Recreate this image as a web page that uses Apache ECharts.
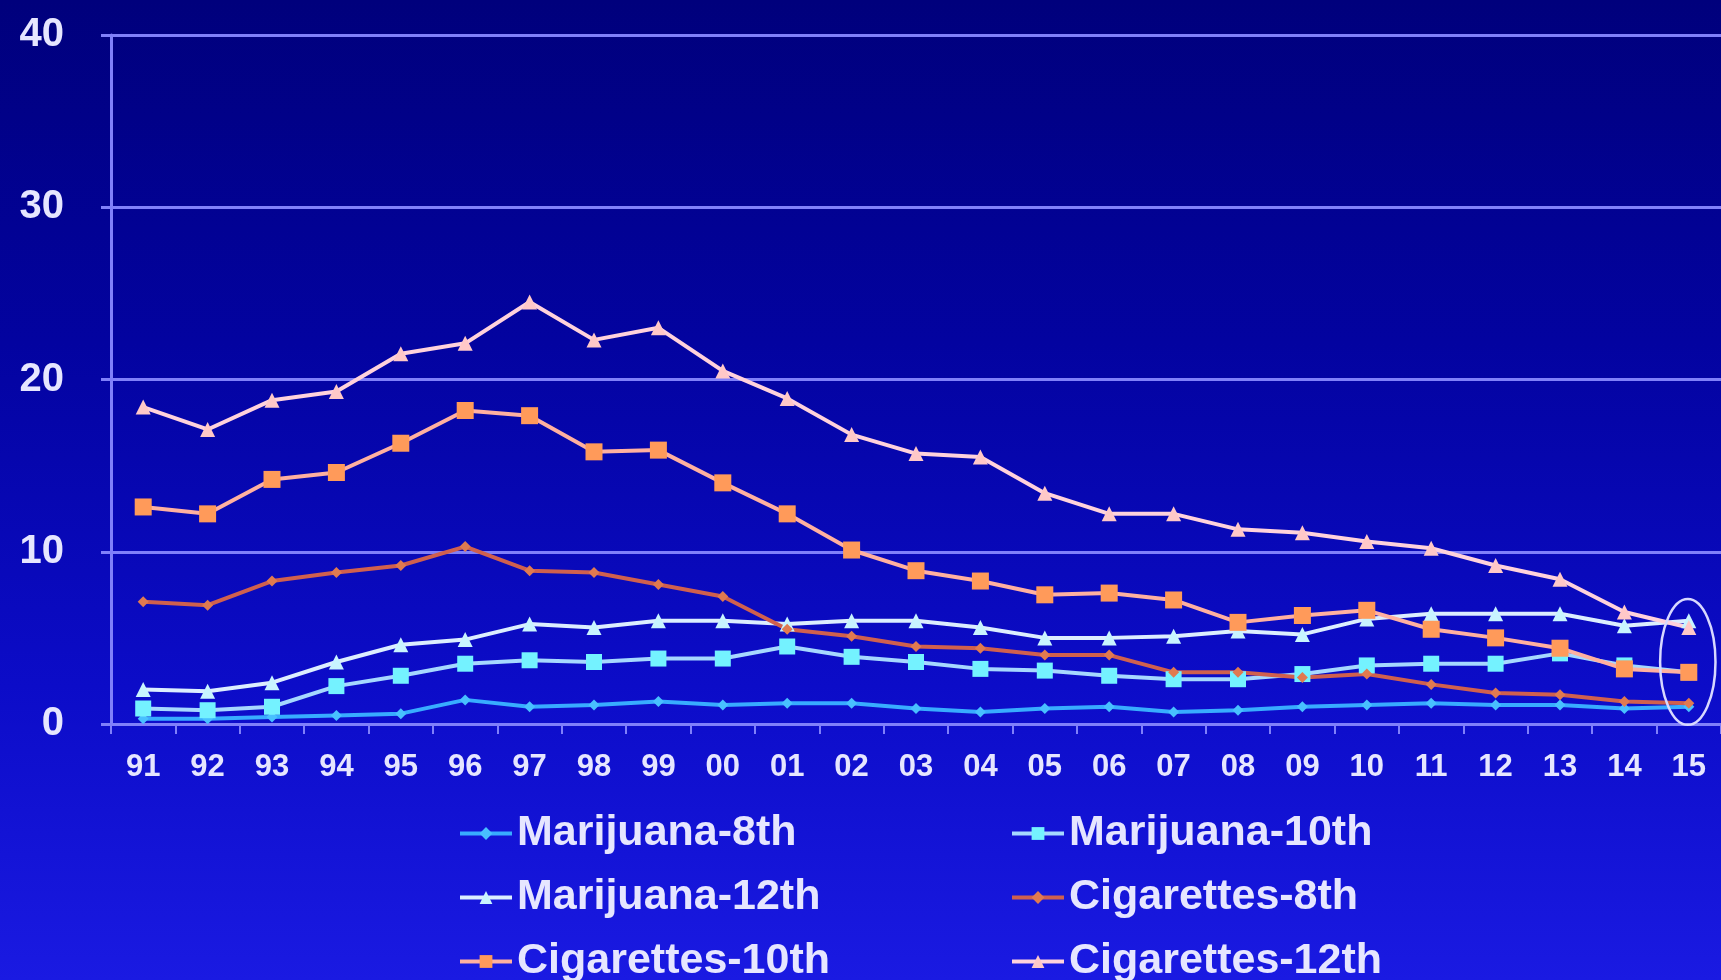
<!DOCTYPE html>
<html>
<head>
<meta charset="utf-8">
<script src="https://cdn.jsdelivr.net/npm/echarts@6/dist/echarts.min.js"></script>
<style>
  html, body { margin: 0; padding: 0; width: 1721px; height: 980px; overflow: hidden; background: #0a0ab8; }
  #chart { width: 1721px; height: 980px; }
</style>
</head>
<body>
<div id="chart"></div>
<script>
// School years (1991–2015)
const years = ['91','92','93','94','95','96','97','98','99','00','01','02','03',
               '04','05','06','07','08','09','10','11','12','13','14','15'];

// Daily use, percent of students
const marijuana8  = [0.3,0.3,0.4,0.5,0.6,1.4,1.0,1.1,1.3,1.1,1.2,1.2,0.9,0.7,0.9,1.0,0.7,0.8,1.0,1.1,1.2,1.1,1.1,0.9,1.0];
const marijuana10 = [0.9,0.8,1.0,2.2,2.8,3.5,3.7,3.6,3.8,3.8,4.5,3.9,3.6,3.2,3.1,2.8,2.6,2.6,2.9,3.4,3.5,3.5,4.1,3.4,3.0];
const marijuana12 = [2.0,1.9,2.4,3.6,4.6,4.9,5.8,5.6,6.0,6.0,5.8,6.0,6.0,5.6,5.0,5.0,5.1,5.4,5.2,6.1,6.4,6.4,6.4,5.7,6.0];
const cigarettes8  = [7.1,6.9,8.3,8.8,9.2,10.3,8.9,8.8,8.1,7.4,5.5,5.1,4.5,4.4,4.0,4.0,3.0,3.0,2.7,2.9,2.3,1.8,1.7,1.3,1.2];
const cigarettes10 = [12.6,12.2,14.2,14.6,16.3,18.2,17.9,15.8,15.9,14.0,12.2,10.1,8.9,8.3,7.5,7.6,7.2,5.9,6.3,6.6,5.5,5.0,4.4,3.2,3.0];
const cigarettes12 = [18.4,17.1,18.8,19.3,21.5,22.1,24.5,22.3,23.0,20.5,18.9,16.8,15.7,15.5,13.4,12.2,12.2,11.3,11.1,10.6,10.2,9.2,8.4,6.5,5.6];

// Value axis ticks
const yMin = 0, yMax = 40, yStep = 10;

const FONT = "'Liberation Sans', Arial, sans-serif";
const GRID_COLOR = '#8080fa';
const TEXT_COLOR = '#e6e6ff';

function lineSeries(name, data, lineColor, symbol, symbolSize, symbolColor, width) {
  return {
    name: name,
    type: 'line',
    data: data,
    symbol: symbol,
    symbolSize: symbolSize,
    showSymbol: true,
    lineStyle: { color: lineColor, width: width },
    itemStyle: { color: symbolColor, borderWidth: 0 },
    emphasis: { disabled: true },
    z: 3
  };
}

const series = [
  lineSeries('Marijuana-8th',  marijuana8,  '#38acff', 'diamond',  11, '#48c0ff', 4),
  lineSeries('Marijuana-10th', marijuana10, '#a6d8ff', 'rect',     16, '#74f2ff', 4),
  lineSeries('Marijuana-12th', marijuana12, '#dceeff', 'triangle', 15, '#c8f4ff', 4),
  lineSeries('Cigarettes-8th', cigarettes8, '#d0604e', 'diamond',  11, '#e07a50', 4),
  lineSeries('Cigarettes-10th', cigarettes10, '#ffb0a0', 'rect',   17, '#ff9a5a', 4),
  lineSeries('Cigarettes-12th', cigarettes12, '#ffd2dc', 'triangle', 15, '#ffc8c8', 4)
];

const legendText = { color: TEXT_COLOR, fontSize: 43, fontWeight: 'bold', fontFamily: FONT };
const legendCommon = {
  type: 'plain', orient: 'vertical', top: 812, height: 260,
  itemWidth: 52, itemHeight: 16, itemGap: 21,
  textStyle: legendText, selectedMode: false, padding: 0,
  lineStyle: { width: 4 }
};

const chart = echarts.init(document.getElementById('chart'), null, { renderer: 'canvas' });

chart.setOption({
  animation: false,
  backgroundColor: {
    type: 'linear', x: 0, y: 0, x2: 0, y2: 1,
    colorStops: [
      { offset: 0, color: '#00007c' },
      { offset: 0.35, color: '#0303a0' },
      { offset: 0.7, color: '#0c0cc8' },
      { offset: 1, color: '#1a1ae2' }
    ]
  },
  grid: { left: 111, right: 0, top: 35, bottom: 256, containLabel: false },
  xAxis: {
    type: 'category',
    data: years,
    boundaryGap: true,
    axisLine: { show: true, lineStyle: { color: GRID_COLOR, width: 3 } },
    axisTick: { show: true, alignWithLabel: false, length: 10, lineStyle: { color: GRID_COLOR, width: 2 } },
    axisLabel: { color: TEXT_COLOR, fontSize: 31, fontWeight: 'bold', fontFamily: FONT, margin: 28, interval: 0 },
    splitLine: { show: false }
  },
  yAxis: {
    type: 'value',
    min: yMin, max: yMax, interval: yStep,
    axisLine: { show: true, lineStyle: { color: GRID_COLOR, width: 3 } },
    axisTick: { show: true, length: 10, lineStyle: { color: GRID_COLOR, width: 3 } },
    axisLabel: { color: TEXT_COLOR, fontSize: 40, fontWeight: 'bold', fontFamily: FONT, margin: 47 },
    splitLine: { show: true, lineStyle: { color: GRID_COLOR, width: 3 } }
  },
  legend: [
    Object.assign({ data: ['Marijuana-8th', 'Marijuana-12th', 'Cigarettes-10th'], left: 458 }, legendCommon),
    Object.assign({ data: ['Marijuana-10th', 'Cigarettes-8th', 'Cigarettes-12th'], left: 1010 }, legendCommon)
  ],
  series: series
});

// Ring drawn around the 2015 readings
function drawHighlight() {
  const last = years.length - 1;
  const c = chart.convertToPixel({ xAxisIndex: 0, yAxisIndex: 0 }, [years[last], 3.6]);
  const prev = chart.convertToPixel({ xAxisIndex: 0, yAxisIndex: 0 }, [years[last - 1], 3.6]);
  const top = chart.convertToPixel({ xAxisIndex: 0, yAxisIndex: 0 }, [years[last], 7.25]);
  const step = c[0] - prev[0];
  chart.setOption({
    graphic: [{
      type: 'ellipse',
      shape: { cx: c[0] - 1, cy: c[1], rx: step * 0.43, ry: c[1] - top[1] },
      style: { fill: 'none', stroke: '#d8d8ff', lineWidth: 2.5 },
      z: 10, silent: true
    }]
  });
}
drawHighlight();
</script>
</body>
</html>
